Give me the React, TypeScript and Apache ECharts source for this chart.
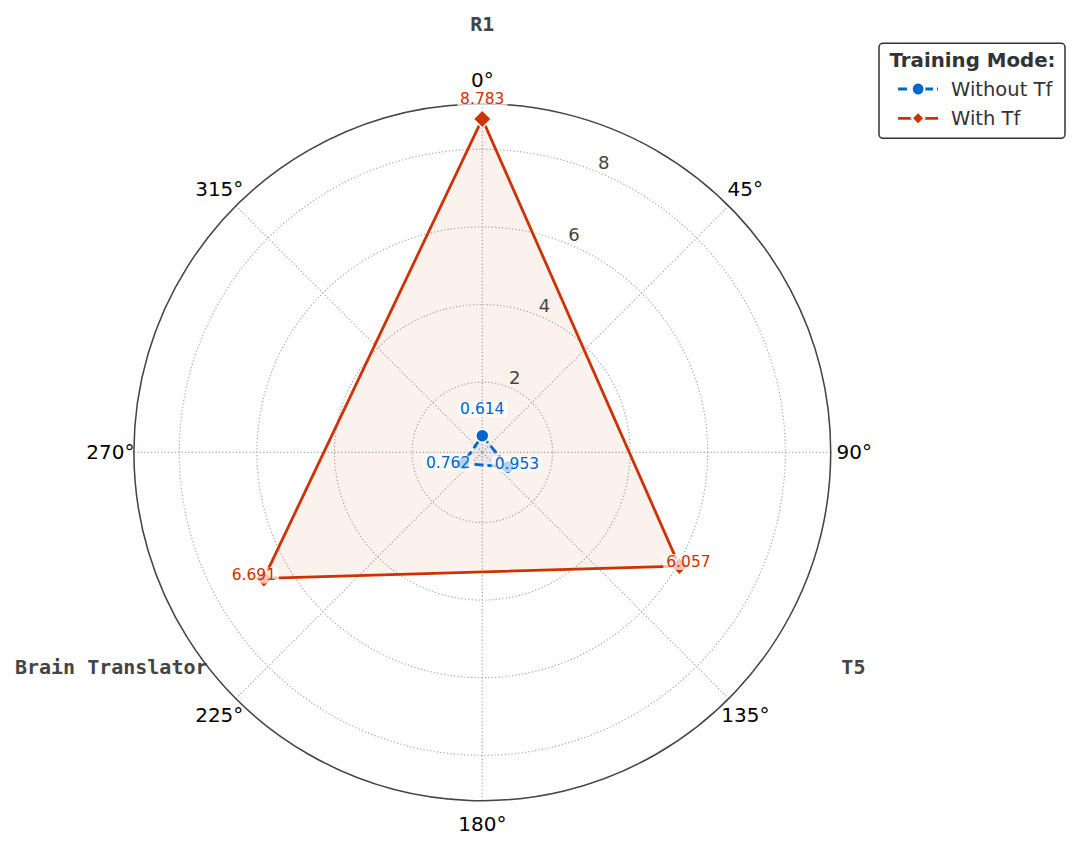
import React, { useEffect, useRef } from 'react';
import * as echarts from 'echarts';

// ---- data ----
const CATEGORIES = ['R1', 'T5', 'Brain Translator'];
const SERIES_NAMES = ['Without Tf', 'With Tf'];
const WITHOUT_TF = [0.614, 0.953, 0.762];
const WITH_TF = [8.783, 6.057, 6.691];
const RADIAL_TICKS = [2, 4, 6, 8];
const ANGLE_TICKS = [0, 45, 90, 135, 180, 225, 270, 315];
const ANGLE_TICK_LABELS = ANGLE_TICKS.map((a) => `${a}\u00B0`);

// ---- layout / style ----
const R_MIN = 0.19;
const R_MAX = 9.17;
const CENTER = [482.3, 452.3];
const RADIUS = 348.4;
const LABEL_POLAR_RADIUS = 430;
const ANGLE_LABEL_R = 372;
const CATEGORY_LABEL_R = 428.5;
const BLUE = '#0066CC';
const RED = '#CC3300';
const FONT = 'DejaVu Sans';
const BLUE_OFFSETS = [[0, -26.5], [9, -3], [-15, 0]];
const RED_OFFSETS = [[0, -19.5], [9, -4], [-10, -3]];

function lineData(values: number[], offsets: number[][]) {
  const n = values.length;
  const pts: any[] = values.map((v, i) => ({
    value: [v, (i * 360) / n],
    label: { offset: offsets[i] },
  }));
  pts.push({ value: [values[0], 360], symbol: 'none', label: { show: false } });
  return pts;
}

const valueLabel = (color: string) => ({
  show: true,
  position: 'inside',
  color,
  fontSize: 15.5,
  fontFamily: FONT,
  textBorderWidth: 0,
  backgroundColor: 'rgba(255,255,255,0.7)',
  padding: [0, 3],
  borderRadius: 3,
  formatter: (p: any) => Number(p.value[0]).toFixed(3),
});

const gridLine = { show: true, lineStyle: { color: '#a8a8a8', width: 1.2, type: [1.2, 2.2] } };
const hidden = {
  axisLine: { show: false },
  axisTick: { show: false },
  axisLabel: { show: false },
  splitLine: { show: false },
  splitArea: { show: false },
};

const textScatter = (polarIndex: number, data: any[], label: any) => ({
  type: 'scatter',
  coordinateSystem: 'polar',
  polarIndex,
  silent: true,
  clip: false,
  symbolSize: 0,
  itemStyle: { opacity: 1 },
  z: 1,
  data,
  label: {
    show: true,
    position: 'inside',
    formatter: '{b}',
    opacity: 1,
    textBorderWidth: 0,
    ...label,
  },
});

export default function App() {
  const ref = useRef<HTMLDivElement>(null);
  useEffect(() => {
    if (!ref.current) return;
    const chart = echarts.init(ref.current, undefined, { renderer: 'svg' });
    const n = CATEGORIES.length;
    const option: any = {
      animation: false,
      backgroundColor: '#ffffff',
      textStyle: { fontFamily: FONT },
      polar: [
        { center: CENTER, radius: RADIUS },
        { center: CENTER, radius: LABEL_POLAR_RADIUS },
      ],
      angleAxis: [
        {
          polarIndex: 0,
          type: 'value',
          min: 0,
          max: 360,
          interval: 45,
          startAngle: 90,
          clockwise: true,
          axisLine: { show: true, lineStyle: { color: '#444444', width: 1.5 } },
          axisTick: { show: false },
          axisLabel: { show: false },
          splitLine: gridLine,
        },
        { polarIndex: 1, type: 'value', min: 0, max: 360, startAngle: 90, clockwise: true, ...hidden },
      ],
      radiusAxis: [
        {
          polarIndex: 0,
          type: 'value',
          min: R_MIN,
          max: R_MAX,
          splitNumber: 5,
          axisLine: { show: false },
          axisTick: { show: false },
          axisLabel: { show: false },
          splitLine: gridLine,
        },
        { polarIndex: 1, type: 'value', min: 0, max: LABEL_POLAR_RADIUS, ...hidden },
      ],
      legend: {
        data: SERIES_NAMES,
        orient: 'vertical',
        left: 891.7,
        top: 74,
        itemWidth: 40,
        itemHeight: 16,
        itemGap: 9.3,
        selectedMode: false,
        z: 10,
        lineStyle: { width: 2.8 },
        textStyle: { fontSize: 19.5, color: '#333333', fontFamily: FONT, padding: [0, 0, 0, 8] },
      },
      graphic: [
        {
          type: 'rect',
          z: 0,
          shape: { x: 879, y: 43.3, width: 186, height: 95, r: 4 },
          style: { fill: '#ffffff', stroke: '#333333', lineWidth: 1.5 },
        },
        {
          type: 'text',
          z: 1,
          x: 972.5,
          y: 60,
          style: {
            text: 'Training Mode:',
            fill: '#333333',
            font: `bold 19.8px "${FONT}"`,
            align: 'center',
            verticalAlign: 'middle',
          },
        },
      ],
      series: [
        {
          name: SERIES_NAMES[0],
          type: 'line',
          coordinateSystem: 'polar',
          polarIndex: 0,
          z: 3,
          symbol: 'circle',
          symbolSize: 13,
          showSymbol: true,
          showAllSymbol: true,
          lineStyle: { color: BLUE, width: 2.8, type: [9, 4] },
          itemStyle: { color: BLUE, borderColor: '#ffffff', borderWidth: 1.5 },
          areaStyle: { color: 'rgba(0,102,204,0.1)' },
          label: valueLabel(BLUE),
          emphasis: { disabled: true },
          data: lineData(WITHOUT_TF, BLUE_OFFSETS),
        },
        {
          name: SERIES_NAMES[1],
          type: 'line',
          coordinateSystem: 'polar',
          polarIndex: 0,
          z: 2,
          symbol: 'diamond',
          symbolSize: 18,
          showSymbol: true,
          showAllSymbol: true,
          lineStyle: { color: RED, width: 2.8, type: 'solid' },
          itemStyle: { color: RED, borderColor: '#ffffff', borderWidth: 1.5 },
          areaStyle: { color: 'rgba(204,51,0,0.1)' },
          label: valueLabel(RED),
          emphasis: { disabled: true },
          data: lineData(WITH_TF, RED_OFFSETS),
        },
        textScatter(
          0,
          RADIAL_TICKS.map((t) => ({ value: [t, 22.5], name: String(t) })),
          { offset: [5.5, -10], fontSize: 18, color: '#444444', fontFamily: FONT },
        ),
        textScatter(
          1,
          ANGLE_TICKS.map((a, i) => ({ value: [ANGLE_LABEL_R, a], name: ANGLE_TICK_LABELS[i] })),
          { fontSize: 20, color: '#000000', fontFamily: FONT },
        ),
        textScatter(
          1,
          CATEGORIES.map((c, i) => ({ value: [CATEGORY_LABEL_R, (i * 360) / n], name: c })),
          { fontSize: 20, fontWeight: 'bold', color: '#444444', fontFamily: 'DejaVu Sans Mono' },
        ),
      ],
    };
    chart.setOption(option);
    return () => chart.dispose();
  }, []);
  return (
    <div
      ref={ref}
      style={{ position: 'fixed', left: 0, top: 0, width: 1080, height: 847, background: '#fff' }}
    />
  );
}
